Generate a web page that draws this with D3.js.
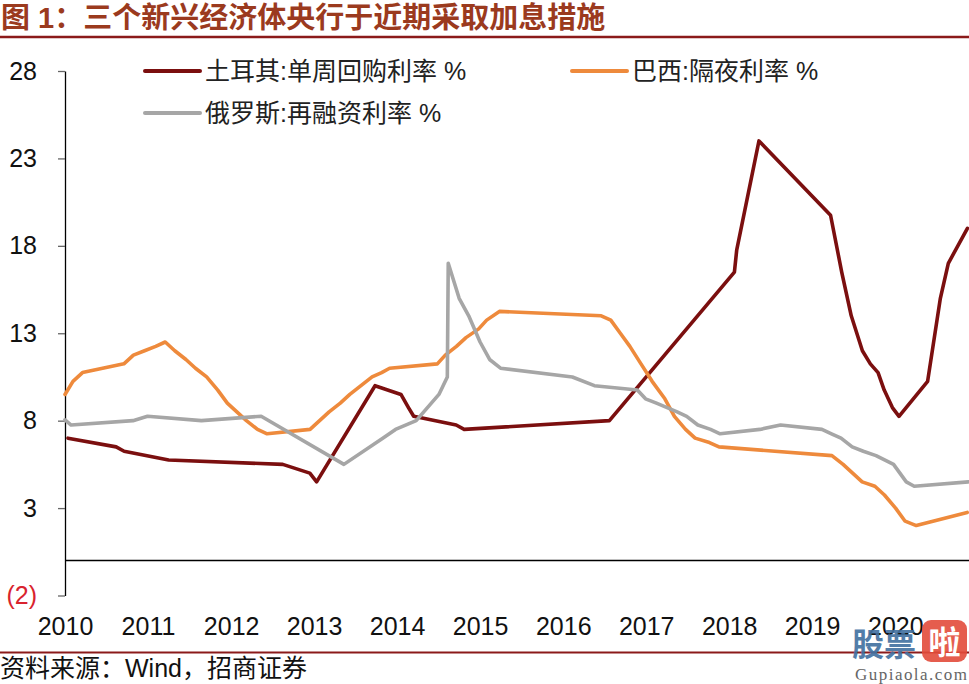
<!DOCTYPE html>
<html>
<head>
<meta charset="utf-8">
<script src="https://cdn.jsdelivr.net/npm/d3@7/dist/d3.min.js"></script>
<style>
  html, body { margin: 0; padding: 0; background: #fff; }
  svg { display: block; }
</style>
</head>
<body>
<svg id="chart" width="969" height="684"></svg>
<script>
// ---------------- DATA ----------------
const titleText = "图 1：三个新兴经济体央行于近期采取加息措施";
const sourceText = "资料来源：Wind，招商证券";

const seriesNames = ["土耳其:单周回购利率 %", "巴西:隔夜利率 %", "俄罗斯:再融资利率 %"];

const turkeyDates = ["2010-05-18","2010-12-16","2011-01-20","2011-08-04","2012-12-18","2013-04-16","2013-05-16",
  "2014-01-28","2014-05-22","2014-06-24","2014-07-17","2015-01-20","2015-02-24","2016-11-24",
  "2018-05-28","2018-06-07","2018-09-13","2019-07-25","2019-09-12","2019-10-24","2019-12-12",
  "2020-01-16","2020-02-19","2020-03-17","2020-04-22","2020-05-21","2020-09-24","2020-11-19","2020-12-24","2021-03-18"];
const turkeyValues = [7.0,6.5,6.25,5.75,5.5,5.0,4.5,
  10.0,9.5,8.75,8.25,7.75,7.5,8.0,
  16.5,17.75,24.0,19.75,16.5,14.0,12.0,
  11.25,10.75,9.75,8.75,8.25,10.25,15.0,17.0,19.0];

const brazilDates = ["2010-05-05","2010-06-09","2010-07-21","2011-01-19","2011-03-02","2011-04-20","2011-06-08","2011-07-20",
  "2011-08-31","2011-10-19","2011-11-30","2012-01-18","2012-03-07","2012-04-18","2012-05-30","2012-07-11","2012-08-29","2012-10-10",
  "2013-04-17","2013-05-29","2013-07-10","2013-08-28","2013-10-09","2013-11-27","2014-01-15","2014-02-26","2014-04-02",
  "2014-10-29","2014-12-03","2015-01-21","2015-03-04","2015-04-29","2015-06-03","2015-07-29",
  "2016-10-19","2016-11-30","2017-01-11","2017-02-22","2017-04-12","2017-05-31","2017-07-26","2017-09-06","2017-10-25","2017-12-06",
  "2018-02-07","2018-03-21","2019-07-31","2019-09-18","2019-10-30","2019-12-11","2020-02-05","2020-03-18","2020-05-06","2020-06-17","2020-08-05","2021-03-17"];
const brazilValues = [9.5,10.25,10.75,11.25,11.75,12.0,12.25,12.5,
  12.0,11.5,11.0,10.5,9.75,9.0,8.5,8.0,7.5,7.25,
  7.5,8.0,8.5,9.0,9.5,10.0,10.5,10.75,11.0,
  11.25,11.75,12.25,12.75,13.25,13.75,14.25,
  14.0,13.75,13.0,12.25,11.25,10.25,9.25,8.25,7.5,7.0,
  6.75,6.5,6.0,5.5,5.0,4.5,4.25,3.75,3.0,2.25,2.0,2.75];

const russiaDates = ["2010-05-05","2010-06-01","2011-02-28","2011-05-03","2011-12-26","2012-09-14","2013-09-13",
  "2014-03-03","2014-04-28","2014-07-28","2014-11-05","2014-12-12","2014-12-16","2015-02-02","2015-03-16","2015-05-05","2015-06-16","2015-08-03",
  "2016-06-14","2016-09-19","2017-03-27","2017-05-02","2017-06-19","2017-09-18","2017-10-30","2017-12-18","2018-02-12","2018-03-26",
  "2018-09-17","2018-12-17","2019-06-17","2019-07-29","2019-09-09","2019-10-28","2019-12-16","2020-02-10","2020-04-27","2020-06-22","2020-07-27","2021-03-22"];
const russiaValues = [8.05,7.75,8.0,8.25,8.0,8.25,5.5,
  7.0,7.5,8.0,9.5,10.5,17.0,15.0,14.0,12.5,11.5,11.0,
  10.5,10.0,9.75,9.25,9.0,8.5,8.25,7.75,7.5,7.25,
  7.5,7.75,7.5,7.25,7.0,6.5,6.25,6.0,5.5,4.5,4.25,4.5];

const yTickValues = [-2, 3, 8, 13, 18, 23, 28];
const xTickLabels = ["2010","2011","2012","2013","2014","2015","2016","2017","2018","2019","2020"];
const xDomain = ["2010-05-05", "2021-03-25"];

// ---------------- STYLE ----------------
const colors = ["#7b0f0f", "#ee8a3c", "#a6a6a6"];
const numFont = "'Liberation Sans', Arial, 'Noto Sans CJK SC', sans-serif";
const cjkFont = "'Liberation Sans', Arial, 'Noto Sans CJK SC', sans-serif";

const parse = d3.timeParse("%Y-%m-%d");
const svg = d3.select("#chart");

const plot = { left: 65, right: 969, top: 71, bottom: 595.5 };

const x = d3.scaleTime()
  .domain(xDomain.map(parse))
  .range([plot.left, plot.right]);
const y = d3.scaleLinear()
  .domain([-2, 28])
  .range([plot.bottom, plot.top]);

// Title
svg.append("text")
  .attr("x", 1).attr("y", 28)
  .attr("font-family", "'Liberation Sans', 'Noto Sans CJK SC', sans-serif")
  .attr("font-weight", "bold")
  .attr("font-size", 29)
  .attr("fill", "#9b3a1e")
  .text(titleText);
svg.append("line")
  .attr("x1", 0).attr("x2", 969).attr("y1", 37).attr("y2", 37)
  .attr("stroke", "#8b1a1a").attr("stroke-width", 2.5);

// Y axis
const yAxis = d3.axisLeft(y)
  .tickValues(yTickValues)
  .tickSize(7)
  .tickSizeOuter(0)
  .tickPadding(21)
  .tickFormat(v => v < 0 ? "(" + Math.abs(v) + ")" : String(v));
const gy = svg.append("g")
  .attr("transform", `translate(${plot.left},0)`)
  .call(yAxis);
gy.select(".domain").attr("stroke", "#000").attr("stroke-width", 1.3);
gy.selectAll(".tick line").attr("stroke", "#666").attr("stroke-width", 1.3);
gy.selectAll(".tick text")
  .attr("font-family", numFont)
  .attr("font-size", 25)
  .attr("fill", d => d < 0 ? "#d9232e" : "#111");

// Zero line
svg.append("line")
  .attr("x1", plot.left).attr("x2", plot.right)
  .attr("y1", y(0)).attr("y2", y(0))
  .attr("stroke", "#000").attr("stroke-width", 1.5);

// X axis labels (one per year, counted from the first date)
const xTickDates = xTickLabels.map((s, i) => d3.timeYear.offset(parse(xDomain[0]), i));
const xAxis = d3.axisBottom(x)
  .tickValues(xTickDates)
  .tickSize(0)
  .tickPadding(22)
  .tickFormat((d, i) => xTickLabels[i]);
const gx = svg.append("g")
  .attr("transform", `translate(0,${plot.bottom})`)
  .call(xAxis);
gx.select(".domain").remove();
gx.selectAll(".tick text")
  .attr("font-family", numFont)
  .attr("font-size", 25)
  .attr("fill", "#111");

// Lines
const series = [
  { name: seriesNames[0], dates: turkeyDates, values: turkeyValues, color: colors[0] },
  { name: seriesNames[1], dates: brazilDates, values: brazilValues, color: colors[1] },
  { name: seriesNames[2], dates: russiaDates, values: russiaValues, color: colors[2] }
];
const line = d3.line()
  .x(d => x(d.date))
  .y(d => y(d.value));
series.forEach(s => {
  const pts = s.dates.map((d, i) => ({ date: parse(d), value: s.values[i] }));
  svg.append("path")
    .datum(pts)
    .attr("d", line)
    .attr("fill", "none")
    .attr("stroke", s.color)
    .attr("stroke-width", 3.6)
    .attr("stroke-linejoin", "round")
    .attr("stroke-linecap", "round");
});

// Legend
const legendPos = [[145, 71], [572, 71], [145, 113]];
series.forEach((s, i) => {
  const [lx, ly] = legendPos[i];
  svg.append("line")
    .attr("x1", lx).attr("x2", lx + 55)
    .attr("y1", ly).attr("y2", ly)
    .attr("stroke", s.color).attr("stroke-width", 4)
    .attr("stroke-linecap", "round");
  svg.append("text")
    .attr("x", lx + 60).attr("y", ly)
    .attr("dy", "0.36em")
    .attr("font-family", cjkFont)
    .attr("font-size", 25)
    .attr("fill", "#222")
    .text(s.name);
});

// Source line & text
svg.append("line")
  .attr("x1", 0).attr("x2", 969).attr("y1", 652.5).attr("y2", 652.5)
  .attr("stroke", "#8b1a1a").attr("stroke-width", 2);
svg.append("text")
  .attr("x", 0).attr("y", 677)
  .attr("font-family", cjkFont)
  .attr("font-size", 25)
  .attr("fill", "#111")
  .text(sourceText);

// Watermark
const wm = svg.append("g");
wm.append("text")
  .attr("x", 852).attr("y", 656)
  .attr("font-family", "'Noto Sans CJK SC', sans-serif")
  .attr("font-weight", "bold")
  .attr("font-size", 32)
  .attr("fill", "#41709f")
  .attr("opacity", 0.9)
  .text("股票");
wm.append("rect")
  .attr("x", 922).attr("y", 620).attr("width", 45).attr("height", 42).attr("rx", 9)
  .attr("fill", "#e24b3b").attr("opacity", 0.9);
wm.append("text")
  .attr("x", 944.5).attr("y", 654)
  .attr("text-anchor", "middle")
  .attr("font-family", "'Noto Sans CJK SC', sans-serif")
  .attr("font-weight", "bold")
  .attr("font-size", 32)
  .attr("fill", "#fff")
  .text("啦");
wm.append("text")
  .attr("x", 855).attr("y", 680)
  .attr("font-family", "'Liberation Serif', 'DejaVu Serif', serif")
  .attr("font-size", 17)
  .attr("textLength", 112)
  .attr("fill", "#666")
  .text("Gupiaola.com");
</script>
</body>
</html>
